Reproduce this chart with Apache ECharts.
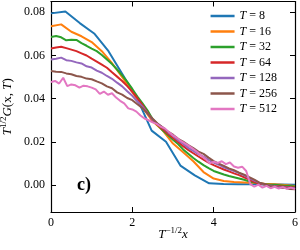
<!DOCTYPE html>
<html>
<head>
<meta charset="utf-8">
<script src="https://cdn.jsdelivr.net/npm/echarts@6/dist/echarts.min.js"></script>
<style>
html,body{margin:0;padding:0;background:#fff;}
#c{width:300px;height:250px;}
</style>
</head>
<body>
<div id="c"></div>
<script>
// ---- data ----
var seriesNames = ['T = 8', 'T = 16', 'T = 32', 'T = 64', 'T = 128', 'T = 256', 'T = 512'];
var xTicks = [0, 2, 4, 6];
var yTicks = [0.00, 0.02, 0.04, 0.06, 0.08];

var x8 = [0, 0.354, 0.707, 1.061, 1.414, 1.768, 2.121, 2.475, 2.828, 3.182, 3.536, 3.889, 4.243, 4.596, 4.950, 5.303, 5.657, 6.0];
var y8 = [0.0795, 0.0804, 0.0750, 0.0702, 0.0620, 0.0510, 0.0400, 0.0252, 0.0200, 0.0090, 0.0045, 0.0008, 0.0005, 0.0004, 0.0003, 0.0002, 0.0002, 0.0001];

var x16 = [0, 0.25, 0.5, 0.75, 1.0, 1.25, 1.5, 1.75, 2.0, 2.25, 2.5, 2.75, 3.0, 3.25, 3.5, 3.75, 4.0, 4.25, 4.5, 4.75, 5.0, 5.25, 5.5, 5.75, 6.0];
var y16 = [0.0735, 0.0744, 0.0710, 0.0689, 0.0662, 0.0620, 0.0565, 0.0500, 0.0430, 0.0360, 0.0295, 0.0252, 0.0192, 0.0152, 0.0110, 0.0060, 0.0030, 0.0019, 0.0014, 0.0012, 0.0010, 0.0006, 0.0003, 0.0000, -0.0004];

var xFine = [0, 0.125, 0.25, 0.375, 0.5, 0.625, 0.75, 0.875, 1.0, 1.125, 1.25, 1.375, 1.5, 1.625, 1.75, 1.875,
  2.0, 2.125, 2.25, 2.375, 2.5, 2.625, 2.75, 2.875, 3.0, 3.125, 3.25, 3.375, 3.5, 3.625, 3.75, 3.875,
  4.0, 4.125, 4.25, 4.375, 4.5, 4.625, 4.75, 4.875, 5.0, 5.125, 5.25, 5.375, 5.5, 5.625, 5.75, 5.875, 6.0];
var y32 = [0.0686, 0.0690, 0.0684, 0.0670, 0.0673, 0.0672, 0.0657, 0.0645, 0.0632, 0.0620, 0.0602, 0.0581, 0.0560, 0.0535, 0.0508, 0.0478,
  0.0445, 0.0410, 0.0378, 0.0345, 0.0305, 0.0278, 0.0252, 0.0232, 0.0210, 0.0190, 0.0165, 0.0145, 0.0125, 0.0108, 0.0092, 0.0078,
  0.0065, 0.0057, 0.0049, 0.0042, 0.0036, 0.0030, 0.0024, 0.0017, 0.0011, 0.0007, 0.0004, 0.0002, 0.0001, -0.0001, -0.0003, -0.0005, -0.0007];
var y64 = [0.0632, 0.0637, 0.0640, 0.0634, 0.0627, 0.0620, 0.0610, 0.0600, 0.0585, 0.0572, 0.0558, 0.0543, 0.0522, 0.0502, 0.0482, 0.0458,
  0.0432, 0.0402, 0.0370, 0.0335, 0.0300, 0.0278, 0.0258, 0.0238, 0.0218, 0.0200, 0.0180, 0.0163, 0.0147, 0.0132, 0.0118, 0.0104,
  0.0092, 0.0082, 0.0072, 0.0063, 0.0054, 0.0046, 0.0036, 0.0025, 0.0014, 0.0007, 0.0002, -0.0002, -0.0004, -0.0006, -0.0008, -0.0010, -0.0012];
var y128 = [0.0581, 0.0585, 0.0590, 0.0578, 0.0575, 0.0568, 0.0563, 0.0550, 0.0544, 0.0530, 0.0520, 0.0505, 0.0492, 0.0474, 0.0457, 0.0434,
  0.0413, 0.0387, 0.0363, 0.0332, 0.0303, 0.0283, 0.0266, 0.0245, 0.0227, 0.0207, 0.0191, 0.0172, 0.0158, 0.0143, 0.0131, 0.0117,
  0.0104, 0.0094, 0.0082, 0.0073, 0.0065, 0.0055, 0.0045, 0.0032, 0.0020, 0.0010, 0.0003, -0.0002, -0.0006, -0.0009, -0.0011, -0.0013, -0.0015];
var y256 = [0.0528, 0.0525, 0.0524, 0.0517, 0.0513, 0.0505, 0.0501, 0.0493, 0.0490, 0.0480, 0.0471, 0.0457, 0.0448, 0.0429, 0.0419, 0.0403,
  0.0393, 0.0374, 0.0356, 0.0331, 0.0307, 0.0284, 0.0266, 0.0247, 0.0233, 0.0214, 0.0201, 0.0185, 0.0171, 0.0155, 0.0144, 0.0127,
  0.0111, 0.0099, 0.0089, 0.0077, 0.0069, 0.0057, 0.0048, 0.0036, 0.0025, 0.0011, 0.0005, -0.0004, -0.0007, -0.0013, -0.0013, -0.0018, -0.0020];

var x512 = [0, 0.1, 0.2, 0.3, 0.4, 0.5, 0.6, 0.7, 0.8, 0.9, 1.0, 1.1, 1.2, 1.3, 1.4, 1.5, 1.6, 1.7, 1.8, 1.9,
  2.0, 2.1, 2.2, 2.3, 2.4, 2.5, 2.6, 2.7, 2.8, 2.9, 3.0, 3.1, 3.2, 3.3, 3.4, 3.5, 3.6, 3.7, 3.8, 3.9,
  4.0, 4.1, 4.2, 4.3, 4.4, 4.5, 4.6, 4.7, 4.8, 4.9, 5.0, 5.1, 5.2, 5.3, 5.4, 5.5, 5.6, 5.7, 5.8, 5.9, 6.0];
var y512 = [0.0477, 0.0482, 0.0470, 0.0497, 0.0458, 0.0466, 0.0462, 0.0451, 0.0460, 0.0457, 0.0451, 0.0443, 0.0422, 0.0433, 0.0418, 0.0425, 0.0405, 0.0390, 0.0378, 0.0355,
  0.0350, 0.0340, 0.0322, 0.0308, 0.0300, 0.0290, 0.0283, 0.0270, 0.0262, 0.0245, 0.0230, 0.0218, 0.0203, 0.0192, 0.0180, 0.0167, 0.0152, 0.0135, 0.0120, 0.0100,
  0.0108, 0.0102, 0.0110, 0.0097, 0.0104, 0.0086, 0.0080, 0.0085, 0.0065, 0.0004, -0.0008, 0.0002, -0.0012, -0.0004, -0.0015, -0.0008, -0.0016, -0.0010, -0.0018, -0.0012, -0.0019];

var colors = ['#1f77b4', '#ff7f0e', '#2ca02c', '#d62728', '#9467bd', '#8c564b', '#e377c2'];

function pairs(xs, ys) { return xs.map(function (x, i) { return [x, ys[i]]; }); }
var allX = [x8, x16, xFine, xFine, xFine, xFine, x512];
var allY = [y8, y16, y32, y64, y128, y256, y512];

var FONT = 'Liberation Serif';
var chart = echarts.init(document.getElementById('c'), null, { renderer: 'canvas' });

var series = seriesNames.map(function (n, i) {
  return {
    name: n, type: 'line', xAxisIndex: 0, yAxisIndex: 0,
    data: pairs(allX[i], allY[i]), showSymbol: false, symbol: 'none',
    lineStyle: { color: colors[i], width: 2 }, itemStyle: { color: colors[i] },
    animation: false
  };
});

var axisLineStyle = { show: true, onZero: false, lineStyle: { color: '#000', width: 1.2 } };
var tickStyle = { show: true, inside: true, length: 5, lineStyle: { color: '#000', width: 1 } };

chart.setOption({
  animation: false,
  color: colors,
  grid: { left: 51, right: 5, top: 1.5, bottom: 38, containLabel: false, outerBoundsMode: 'none' },
  legend: {
    orient: 'vertical', right: 18, top: 5, icon: 'rect', itemWidth: 24, itemHeight: 2.5,
    itemGap: 3.5, data: seriesNames,
    formatter: function (n) { return '{i|T}' + n.slice(1); },
    textStyle: { fontFamily: FONT, fontSize: 12, color: '#000', lineHeight: 12,
      rich: { i: { fontFamily: FONT, fontStyle: 'italic', fontSize: 12, color: '#000' } } }
  },
  xAxis: [{
    type: 'value', min: 0, max: 6, interval: 2, position: 'bottom',
    axisLine: axisLineStyle, axisTick: tickStyle, splitLine: { show: false },
    axisLabel: { fontFamily: FONT, fontSize: 12, color: '#000', margin: 5,
      customValues: xTicks, formatter: function (v) { return String(v); } },
    name: '{i|T}{s|−1/2}{i|x}', nameLocation: 'middle', nameGap: 14, nameMoveOverlap: false,
    nameTextStyle: { fontFamily: FONT, fontSize: 13, color: '#000',
      rich: { i: { fontFamily: FONT, fontStyle: 'italic', fontSize: 13, color: '#000' },
              s: { fontFamily: FONT, fontSize: 9, color: '#000', padding: [0, 0, 8, 0] } } }
  }, {
    type: 'value', min: 0, max: 6, interval: 2, position: 'top',
    axisLine: axisLineStyle, axisTick: tickStyle, axisLabel: { show: false }, splitLine: { show: false }
  }],
  yAxis: [{
    type: 'value', min: -0.0125, max: 0.085, position: 'left',
    axisLine: axisLineStyle, splitLine: { show: false },
    axisTick: { show: true, inside: true, length: 5, lineStyle: { color: '#000', width: 1 }, customValues: yTicks },
    axisLabel: { fontFamily: FONT, fontSize: 12, color: '#000', margin: 6, customValues: yTicks,
      formatter: function (v) { return v.toFixed(2); } },
    name: '{i|T}{s|1/2}{i|G}(x, {i|T})', nameLocation: 'middle', nameGap: 35, nameRotate: 90, nameMoveOverlap: false,
    nameTextStyle: { fontFamily: FONT, fontSize: 13, color: '#000',
      rich: { i: { fontFamily: FONT, fontStyle: 'italic', fontSize: 13, color: '#000' },
              s: { fontFamily: FONT, fontSize: 9, color: '#000', padding: [0, 0, 8, 0] } } }
  }, {
    type: 'value', min: -0.0125, max: 0.085, position: 'right',
    axisLine: axisLineStyle, splitLine: { show: false }, axisLabel: { show: false },
    axisTick: { show: true, inside: true, length: 5, lineStyle: { color: '#000', width: 1 }, customValues: yTicks }
  }],
  graphic: [{
    type: 'text', left: 77, top: 176,
    style: { text: 'c)', font: 'bold 18px "Liberation Serif"', fill: '#000' }
  }],
  series: series
});
</script>
</body>
</html>
